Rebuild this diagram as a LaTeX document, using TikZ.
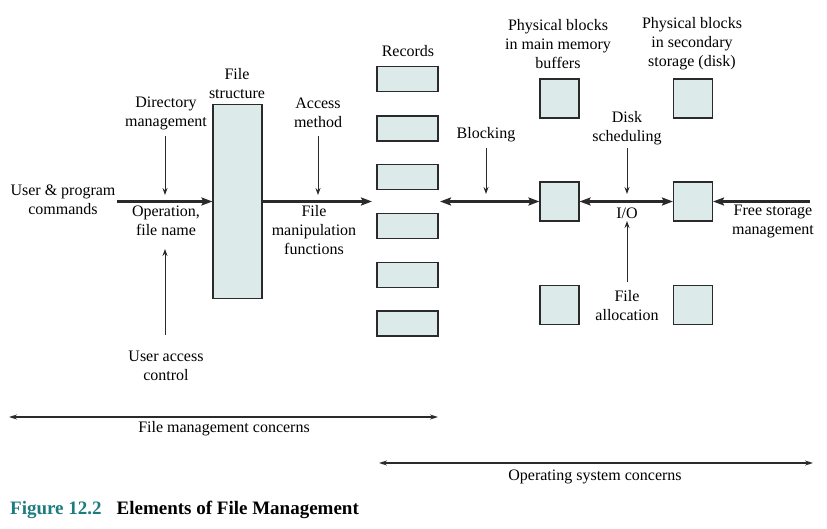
\documentclass[tikz,border=0pt]{standalone}
\usepackage{fontspec}
\setmainfont{Liberation Serif}
\usetikzlibrary{arrows.meta}
\definecolor{boxfill}{HTML}{DCEAEA}
\definecolor{lineg}{HTML}{2A2A2A}
\definecolor{capteal}{HTML}{1E7B7E}
\begin{document}
\begin{tikzpicture}[x=1pt,y=-1pt,
  font=\fontsize{16}{19}\selectfont,
  box/.style={draw=lineg, fill=boxfill, line width=1.1pt, inner sep=0pt},
  recbox/.style={box, minimum width=61pt, minimum height=25pt},
  blkbox/.style={box, minimum width=39pt, minimum height=39pt},
  lbl/.style={align=center, inner sep=0pt, text=black},
  mainarr/.style={draw=lineg, line width=2.2pt, -{Stealth[length=11pt,width=8pt,inset=2pt]}},
  dblarr/.style={draw=lineg, line width=2.2pt, {Stealth[length=11pt,width=8pt,inset=2pt]}-{Stealth[length=11pt,width=8pt,inset=2pt]}},
  thinarr/.style={draw=lineg, line width=1pt, -{Stealth[length=7pt,width=5pt]}},
  spanarr/.style={draw=lineg, line width=1.2pt, {Stealth[length=8pt,width=5pt]}-{Stealth[length=8pt,width=5pt]}}
]
\useasboundingbox (0,0) rectangle (827,529);

% file structure
\node[box, minimum width=49pt, minimum height=194pt] (fs) at (237.5,201.5) {};
\node[lbl] (fslbl) at (237,84) {File\\structure};

% records
\node[lbl] (reclbl) at (408,51) {Records};
\foreach \i/\yy in {1/79,2/128.5,3/177,4/226,5/275,6/323.5}
  \node[recbox] (r\i) at (407.5,\yy) {};

% physical blocks
\node[blkbox] (m1) at (559.5,98.5) {};
\node[blkbox] (m2) at (559.5,201.5) {};
\node[blkbox] (m3) at (559.5,305) {};
\node[blkbox] (s1) at (693,98.5) {};
\node[blkbox] (s2) at (693,201.5) {};
\node[blkbox] (s3) at (693,305) {};

% labels
\node[lbl] (user) at (63,200) {User \& program\\commands};
\node[lbl] (dir) at (166,113) {Directory\\management};
\node[lbl] (op) at (166,221) {Operation,\\file name};
\node[lbl] (uac) at (166,366) {User access\\control};
\node[lbl] (acc) at (318,113) {Access\\method};
\node[lbl] (fmf) at (314,230) {File\\manipulation\\functions};
\node[lbl] (blk) at (486,135) {Blocking};
\node[lbl] (pbm) at (558,44) {Physical blocks\\in main memory\\buffers};
\node[lbl] (pbs) at (692,44) {Physical blocks\\in secondary\\storage (disk)};
\node[lbl] (disk) at (627,128) {Disk\\scheduling};
\node[lbl] (io) at (627,213) {I/O};
\node[lbl] (falloc) at (627,306) {File\\allocation};
\node[lbl] (free) at (773,221) {Free storage\\management};
\node[lbl] (fmc) at (224,429) {File management concerns};
\node[lbl] (osc) at (595,477) {Operating system concerns};
\node[lbl, anchor=west, font=\fontsize{19}{22}\selectfont\bfseries] (cap) at (10,510)
  {\textcolor{capteal}{Figure 12.2}\hspace{15pt}Elements of File Management};

% coordinates
\coordinate (ustart) at (117,201.5);
\coordinate (recin) at (372,201.5);
\coordinate (blkL) at (440,201.5);
\coordinate (freeR) at (810,201.5);
\coordinate (dirT) at (165,136);
\coordinate (dirB) at (165,195);
\coordinate (accT) at (318,136);
\coordinate (accB) at (318,195);
\coordinate (uacB) at (165,335);
\coordinate (uacT) at (165,249);
\coordinate (blkT) at (486,148);
\coordinate (blkB) at (486,194);
\coordinate (dskT) at (627,148);
\coordinate (dskB) at (627,194);
\coordinate (faB) at (627,282);
\coordinate (faT) at (627,221);
\coordinate (fmcL) at (9,417);
\coordinate (fmcR) at (438,417);
\coordinate (oscL) at (379,463);
\coordinate (oscR) at (813,463);

% main flow
\draw[mainarr] (ustart) -- (fs.west);
\draw[mainarr] (fs.east) -- (recin);
\draw[dblarr] (blkL) -- (m2.west);
\draw[dblarr] (m2.east) -- (s2.west);
\draw[mainarr] (freeR) -- (s2.east);

% thin arrows
\draw[thinarr] (dirT) -- (dirB);
\draw[thinarr] (accT) -- (accB);
\draw[thinarr] (uacB) -- (uacT);
\draw[thinarr] (blkT) -- (blkB);
\draw[thinarr] (dskT) -- (dskB);
\draw[thinarr] (faB) -- (faT);

% spans
\draw[spanarr] (fmcL) -- (fmcR);
\draw[spanarr] (oscL) -- (oscR);
\end{tikzpicture}
\end{document}
